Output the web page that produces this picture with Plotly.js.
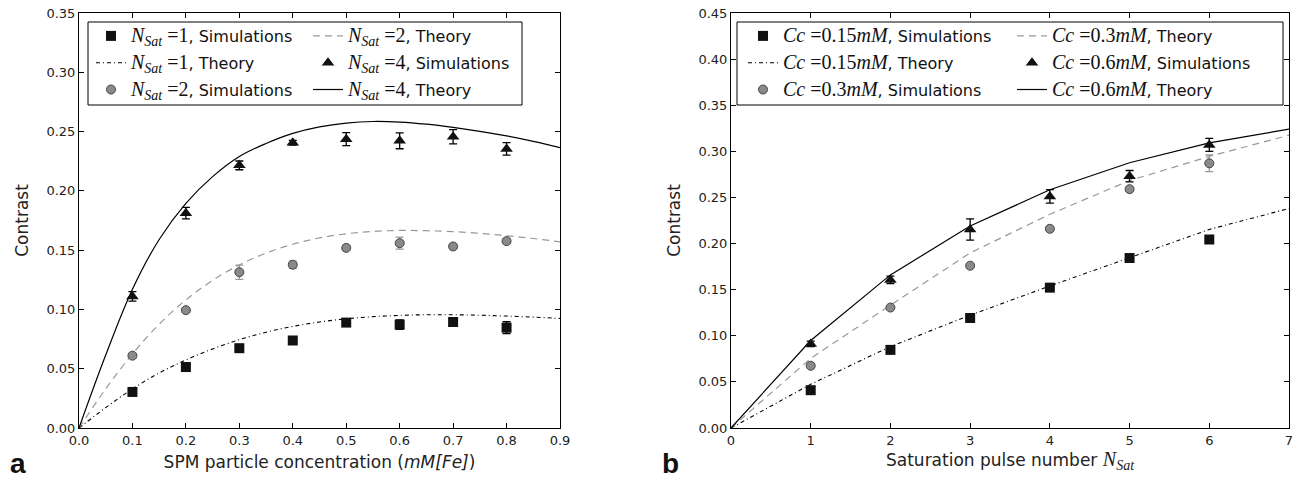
<!DOCTYPE html>
<html><head><meta charset="utf-8">
<script src="https://cdn.plot.ly/plotly-3.0.1.min.js"></script>
<style>html,body{margin:0;padding:0;background:#fff}</style>
</head><body><div id="chart" style="width:1298px;height:485px"></div>
<script>
// ---- Panel a data ----
const concSim = [0.1, 0.2, 0.3, 0.4, 0.5, 0.6, 0.7, 0.8];
const simN1 = [0.0304, 0.0514, 0.0673, 0.0738, 0.0889, 0.0872, 0.0894, 0.0846];
const errN1 = [0.002, 0.002, 0.003, 0.002, 0.002, 0.004, 0.002, 0.005];
const simN2 = [0.061, 0.0994, 0.1314, 0.1377, 0.1519, 0.1559, 0.1531, 0.1576];
const errN2 = [0.002, 0.002, 0.006, 0.003, 0.002, 0.005, 0.002, 0.002];
const simN4 = [0.111, 0.1812, 0.2215, 0.2405, 0.2436, 0.2422, 0.2456, 0.2354];
const errN4 = [0.004, 0.0048, 0.0037, 0.002, 0.0055, 0.0067, 0.006, 0.0053];
const concTheory = [0, 0.05, 0.1, 0.15, 0.2, 0.25, 0.3, 0.35, 0.4, 0.45, 0.5, 0.55, 0.6, 0.65, 0.7, 0.75, 0.8, 0.85, 0.9];
const thN4 = [0, 0.0615, 0.117, 0.159, 0.1895, 0.212, 0.229, 0.240, 0.2485, 0.254, 0.2572, 0.2585, 0.258, 0.2562, 0.2535, 0.2502, 0.2463, 0.2417, 0.2365];
const thN2 = [0, 0.033, 0.0625, 0.0875, 0.108, 0.1245, 0.1375, 0.1475, 0.155, 0.1603, 0.1638, 0.1658, 0.1666, 0.1664, 0.1656, 0.1642, 0.1622, 0.1598, 0.157];
const thN1 = [0, 0.0172, 0.033, 0.0464, 0.0574, 0.0667, 0.0745, 0.0808, 0.0857, 0.0894, 0.0921, 0.0939, 0.095, 0.0955, 0.0955, 0.0951, 0.0944, 0.0935, 0.0924];

// ---- Panel b data ----
const pulseSim = [1, 2, 3, 4, 5, 6];
const simC015 = [0.041, 0.0847, 0.1193, 0.1522, 0.1843, 0.2044];
const errC015 = [0.002, 0.002, 0.002, 0.002, 0.002, 0.002];
const simC03 = [0.0675, 0.1306, 0.176, 0.216, 0.259, 0.287];
const errC03 = [0.002, 0.002, 0.002, 0.002, 0.002, 0.009];
const simC06 = [0.0912, 0.1606, 0.2153, 0.2511, 0.273, 0.307];
const errC06 = [0.003, 0.004, 0.0115, 0.0073, 0.0062, 0.007];
const pulseTheory = [0, 1, 2, 3, 4, 5, 6, 7];
const thC015 = [0, 0.0474, 0.0883, 0.1223, 0.154, 0.185, 0.2153, 0.238];
const thC03 = [0, 0.0755, 0.1332, 0.1898, 0.2318, 0.2683, 0.2945, 0.3175];
const thC06 = [0, 0.0949, 0.166, 0.219, 0.2584, 0.2876, 0.3091, 0.3241];

// ---- Labels ----
const SERIF = "font-family:'Liberation Serif';font-size:20px";
const nSatSym = `<i>N</i><sub><i>Sat</i></sub>`;
const nSat = n => `<span style="${SERIF}">${nSatSym} =${n}</span>`;
const cc = c => `<span style="${SERIF}"><i>Cc</i> =${c}<i>mM</i></span>`;

const W = 1298, H = 485;
const px = v => v / W, py = v => 1 - v / H;

const GRAY = '#999999', CIRC = '#8a8a8a';
const sq = {symbol: 'square', size: 10, color: '#111'};
const ci = {symbol: 'circle', size: 9, color: CIRC, line: {color: '#444', width: 1}};
const tr = {symbol: 'triangle-up', size: 11, color: '#111'};
const eb = (arr, col) => ({type: 'data', array: arr, visible: true, color: col, thickness: 1.3, width: 4});
const lineDD = {color: '#000', width: 1.1, dash: '4px,3px,1px,3px'};
const lineDash = {color: GRAY, width: 1.2, dash: '7px,5px'};
const lineSolid = {color: '#000', width: 1.2};
const spl = {shape: 'spline', smoothing: 1};

const traces = [
  // panel a lines
  {x: concTheory, y: thN1, mode: 'lines', line: Object.assign({}, spl, lineDD), name: nSat(1) + ', Theory', legend: 'legend', legendgroup: 'a2', xaxis: 'x', yaxis: 'y'},
  {x: concTheory, y: thN2, mode: 'lines', line: Object.assign({}, spl, lineDash), name: nSat(2) + ', Theory', legend: 'legend2', legendgroup: 'a4', xaxis: 'x', yaxis: 'y'},
  {x: concTheory, y: thN4, mode: 'lines', line: Object.assign({}, spl, lineSolid), name: nSat(4) + ', Theory', legend: 'legend2', legendgroup: 'a6', xaxis: 'x', yaxis: 'y'},
  // panel a markers
  {x: concSim, y: simN1, mode: 'markers', marker: sq, error_y: eb(errN1, '#000'), name: nSat(1) + ', Simulations', legend: 'legend', legendgroup: 'a1', xaxis: 'x', yaxis: 'y'},
  {x: concSim, y: simN2, mode: 'markers', marker: ci, error_y: eb(errN2, GRAY), name: nSat(2) + ', Simulations', legend: 'legend', legendgroup: 'a3', xaxis: 'x', yaxis: 'y'},
  {x: concSim, y: simN4, mode: 'markers', marker: tr, error_y: eb(errN4, '#000'), name: nSat(4) + ', Simulations', legend: 'legend2', legendgroup: 'a5', xaxis: 'x', yaxis: 'y'},
  // panel b lines
  {x: pulseTheory, y: thC015, mode: 'lines', line: lineDD, name: cc('0.15') + ', Theory', legend: 'legend3', legendgroup: 'b2', xaxis: 'x2', yaxis: 'y2'},
  {x: pulseTheory, y: thC03, mode: 'lines', line: lineDash, name: cc('0.3') + ', Theory', legend: 'legend4', legendgroup: 'b4', xaxis: 'x2', yaxis: 'y2'},
  {x: pulseTheory, y: thC06, mode: 'lines', line: lineSolid, name: cc('0.6') + ', Theory', legend: 'legend4', legendgroup: 'b6', xaxis: 'x2', yaxis: 'y2'},
  // panel b markers
  {x: pulseSim, y: simC015, mode: 'markers', marker: sq, error_y: eb(errC015, '#000'), name: cc('0.15') + ', Simulations', legend: 'legend3', legendgroup: 'b1', xaxis: 'x2', yaxis: 'y2'},
  {x: pulseSim, y: simC03, mode: 'markers', marker: ci, error_y: eb(errC03, GRAY), name: cc('0.3') + ', Simulations', legend: 'legend3', legendgroup: 'b3', xaxis: 'x2', yaxis: 'y2'},
  {x: pulseSim, y: simC06, mode: 'markers', marker: tr, error_y: eb(errC06, '#000'), name: cc('0.6') + ', Simulations', legend: 'legend4', legendgroup: 'b5', xaxis: 'x2', yaxis: 'y2'}
];

const rank = {a1: 1, a2: 2, a3: 3, a4: 1, a5: 2, a6: 3, b1: 1, b2: 2, b3: 3, b4: 1, b5: 2, b6: 3};
traces.forEach(t => { t.legendrank = rank[t.legendgroup]; });

const tickFont = {family: 'DejaVu Sans', size: 13, color: '#222'};
const titleFont = {family: 'DejaVu Sans', size: 17, color: '#222'};
const axBase = {showline: true, linecolor: '#000', linewidth: 1, mirror: 'ticks', ticks: 'inside', ticklen: 5, tickcolor: '#000', tickwidth: 1, showgrid: false, zeroline: false, tickfont: tickFont, automargin: false};

const legFont = {family: 'DejaVu Sans', size: 16, color: '#111'};
const legBase = {bgcolor: 'rgba(0,0,0,0)', borderwidth: 0, font: legFont, xanchor: 'left', yanchor: 'top', tracegroupgap: 3, itemclick: false, itemdoubleclick: false};

const layout = {
  width: W, height: H,
  margin: {l: 0, r: 0, t: 0, b: 0},
  paper_bgcolor: '#fff', plot_bgcolor: '#fff',
  showlegend: true,
  xaxis: Object.assign({}, axBase, {domain: [px(79), px(560)], range: [0, 0.9], dtick: 0.1, tickformat: '.1f', anchor: 'y',
    title: {text: 'SPM particle concentration (<i>mM[Fe]</i>)', font: titleFont, standoff: 9}}),
  yaxis: Object.assign({}, axBase, {domain: [1 - 428 / H, 1 - 13 / H], range: [0, 0.35], dtick: 0.05, tickformat: '.2f', anchor: 'x',
    title: {text: 'Contrast', font: titleFont, standoff: 13}}),
  xaxis2: Object.assign({}, axBase, {domain: [px(731), px(1289)], range: [0, 7], dtick: 1, tickformat: 'd', anchor: 'y2',
    title: {text: `Saturation pulse number <span style="${SERIF}">${nSatSym}</span>`, font: titleFont, standoff: 7}}),
  yaxis2: Object.assign({}, axBase, {domain: [1 - 428 / H, 1 - 13 / H], range: [0, 0.45], dtick: 0.05, tickformat: '.2f', anchor: 'x2',
    title: {text: 'Contrast', font: titleFont, standoff: 13}}),
  legend: Object.assign({}, legBase, {x: px(91), y: py(19)}),
  legend2: Object.assign({}, legBase, {x: px(308), y: py(19)}),
  legend3: Object.assign({}, legBase, {x: px(743), y: py(19)}),
  legend4: Object.assign({}, legBase, {x: px(1012), y: py(19)}),
  shapes: [
    {type: 'rect', xref: 'paper', yref: 'paper', x0: px(88), x1: px(522), y0: py(105), y1: py(22), line: {color: '#000', width: 1}, fillcolor: '#fff', layer: 'above'},
    {type: 'rect', xref: 'paper', yref: 'paper', x0: px(737), x1: px(1283), y0: py(105), y1: py(22), line: {color: '#000', width: 1}, fillcolor: '#fff', layer: 'above'}
  ],
  annotations: [
    {text: '<b>a</b>', xref: 'paper', yref: 'paper', x: px(18), y: py(463), xanchor: 'center', yanchor: 'middle', showarrow: false, font: {family: 'Liberation Sans', size: 28, color: '#111'}},
    {text: '<b>b</b>', xref: 'paper', yref: 'paper', x: px(671), y: py(463), xanchor: 'center', yanchor: 'middle', showarrow: false, font: {family: 'Liberation Sans', size: 28, color: '#111'}}
  ]
};

Plotly.newPlot('chart', traces, layout, {displayModeBar: false, staticPlot: true});
</script>
</body></html>
